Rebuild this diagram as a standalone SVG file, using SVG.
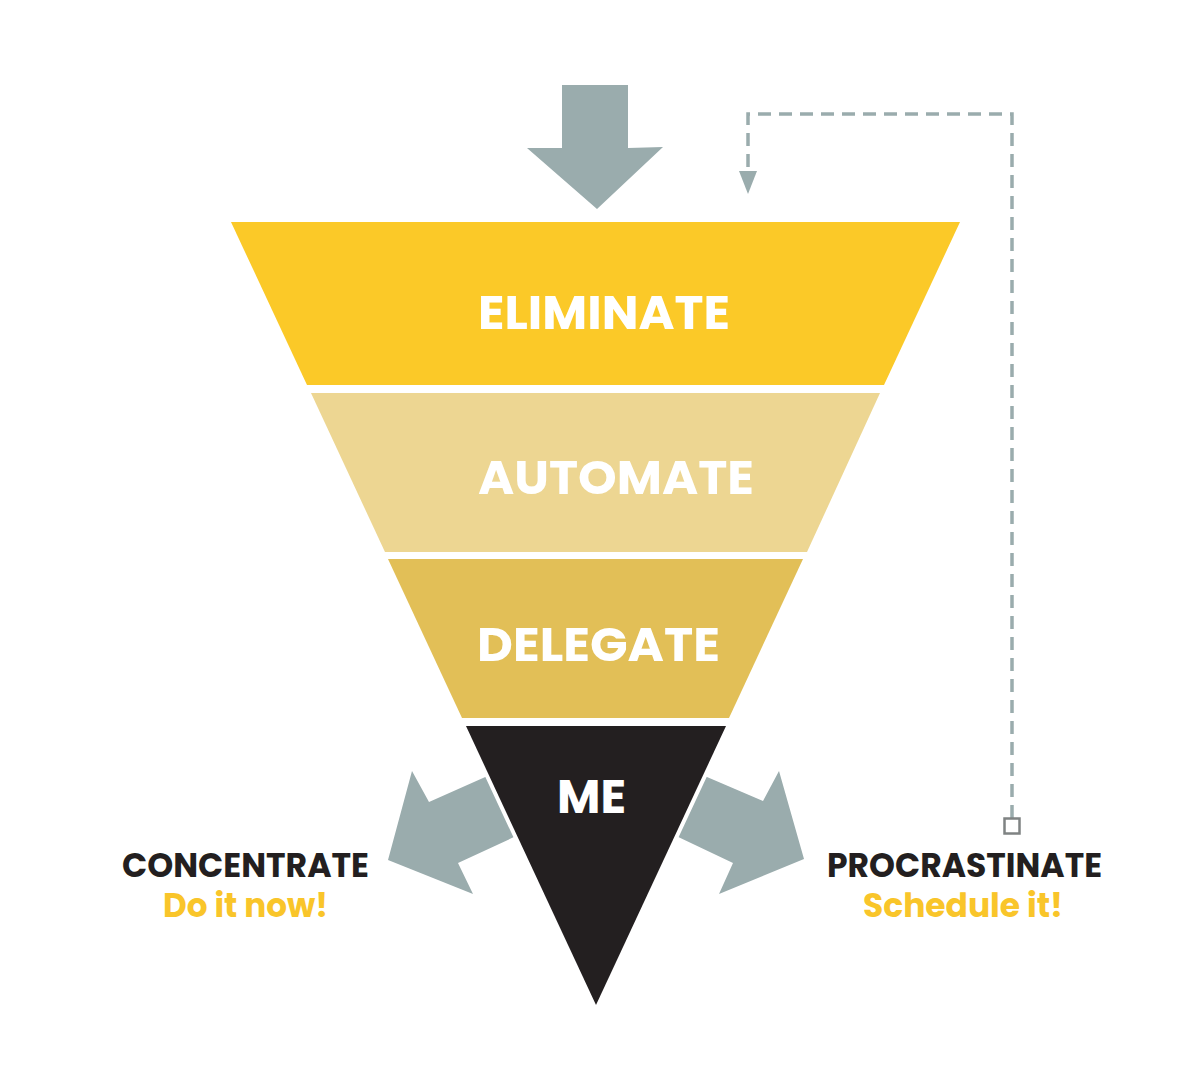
<svg xmlns="http://www.w3.org/2000/svg" width="1182" height="1070" viewBox="0 0 1182 1070">
<style>
.lbl{font-family:Poppins,Inter,"Liberation Sans",sans-serif;font-weight:700;fill:#ffffff;text-anchor:middle}
.cap{font-family:Poppins,Inter,"Liberation Sans",sans-serif;font-weight:700;text-anchor:middle}
.dark{fill:#231f20}
.yel{fill:#f9c52a}
.arrow{fill:#9aacad}
.dash{fill:none;stroke:#9aacad;stroke-width:3.5;stroke-dasharray:13 8}
</style>
<defs>
<marker id="ah" markerWidth="6" markerHeight="6" viewBox="0 0 10 10" refX="5" refY="10" orient="auto-start-reverse" markerUnits="userSpaceOnUse">
<path d="M0,0 L10,0 L5,10 Z" fill="#9aacad"/>
</marker>
</defs>
<rect width="1182" height="1070" fill="#ffffff"/>
<g id="connectors">
<polygon class="arrow" points="562,85 628,85 628,148 663,147 597,209 527,148 562,148"/>
<polygon class="arrow" points="388,860 412,771 429,802 512,765 540,825 458,863 473,894"/>
<polygon class="arrow" points="804,859 779,771 763,801 679,765 653,825 733,863 719,894"/>
<path class="dash" d="M1012,818 V114 H748 V172"/>
<polygon points="739,171 757,171 748,194" fill="#9aacad"/>
<rect x="1004.5" y="818.5" width="15" height="15" fill="#ffffff" stroke="#7f8383" stroke-width="2.5"/>
</g>
<g id="eliminate">
<polygon points="231,222 960,222 884,385 307,385" fill="#fbc928"/>
<text class="lbl" x="604" y="329" font-size="48" textLength="252" lengthAdjust="spacingAndGlyphs">ELIMINATE</text>
</g>
<g id="automate">
<polygon points="311,393 880,393 807,552 385,552" fill="#edd692"/>
<text class="lbl" x="616" y="494" font-size="48" textLength="276" lengthAdjust="spacingAndGlyphs">AUTOMATE</text>
</g>
<g id="delegate">
<polygon points="388,559 803,559 729,718 462,718" fill="#e2bf57"/>
<text class="lbl" x="598.5" y="661" font-size="48" textLength="243" lengthAdjust="spacingAndGlyphs">DELEGATE</text>
</g>
<g id="me">
<polygon points="466,726 726,726 596,1005" fill="none" stroke="#ffffff" stroke-width="8" stroke-linejoin="miter"/>
<polygon points="466,726 726,726 596,1005" fill="#231f20"/>
<text class="lbl" x="591.5" y="813" font-size="48" textLength="69" lengthAdjust="spacingAndGlyphs">ME</text>
</g>
<g id="concentrate">
<text class="cap dark" x="245.5" y="877" font-size="33" textLength="247" lengthAdjust="spacingAndGlyphs">CONCENTRATE</text>
<text class="cap yel" x="245.5" y="917" font-size="33" textLength="165" lengthAdjust="spacingAndGlyphs">Do it now!</text>
</g>
<g id="procrastinate">
<text class="cap dark" x="964.5" y="877" font-size="33" textLength="275" lengthAdjust="spacingAndGlyphs">PROCRASTINATE</text>
<text class="cap yel" x="963" y="917" font-size="33" textLength="200" lengthAdjust="spacingAndGlyphs">Schedule it!</text>
</g>
</svg>
